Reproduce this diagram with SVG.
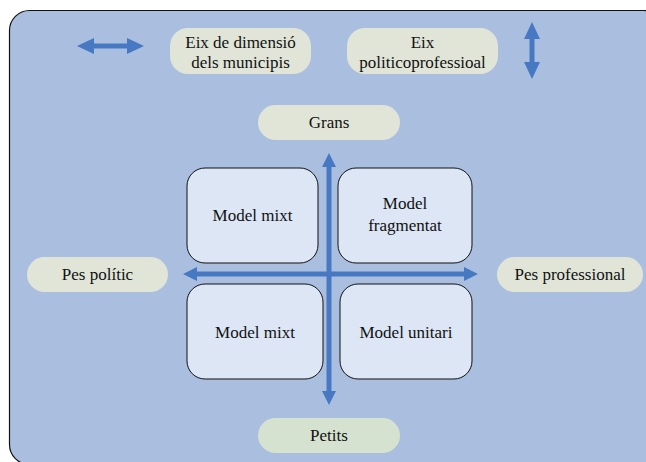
<svg xmlns="http://www.w3.org/2000/svg" width="646" height="462" viewBox="0 0 646 462">
  <style>
    .panel { fill: #AABFE0; stroke: #111; stroke-width: 1.2; }
    .pill { fill: #E0E5D8; stroke: none; }
    .model { fill: #DCE6F5; stroke: #111; stroke-width: 1; }
    text { font-family: 'Liberation Serif', 'Times New Roman', Times, serif; font-size: 17px; fill: #111; text-anchor: middle; }
    .axis { stroke: #4778C2; stroke-width: 5; fill: none; }
    .head { fill: #4778C2; }
  </style>
  <defs>
    <marker id="ah" viewBox="0 0 14 14" refX="2" refY="7" markerWidth="14" markerHeight="14" markerUnits="userSpaceOnUse" orient="auto-start-reverse">
      <path class="head" d="M0,0 L14,7 L0,14 Z"/>
    </marker>
    <marker id="ahBig" viewBox="0 0 17 16" refX="2" refY="8" markerWidth="17" markerHeight="16" markerUnits="userSpaceOnUse" orient="auto-start-reverse">
      <path class="head" d="M0,0 L17,8 L0,16 Z"/>
    </marker>
  </defs>

  <!-- background panel -->
  <rect class="panel" x="9.5" y="10.5" width="654" height="454" rx="20"/>

  <g font-family="Liberation Serif, serif">
  <!-- legend -->
  <g id="legend-h-arrow">
    <line class="axis" x1="92" y1="46" x2="129" y2="46" marker-start="url(#ahBig)" marker-end="url(#ahBig)"/>
  </g>
  <g id="legend-dimensio">
    <rect class="pill" x="170" y="28" width="141" height="46" rx="18"/>
    <text x="240.5" y="48">Eix de dimensió</text>
    <text x="240.5" y="68">dels municipis</text>
  </g>
  <g id="legend-politicoprofessional">
    <rect class="pill" x="347" y="28" width="151" height="46" rx="18"/>
    <text x="422.5" y="48">Eix</text>
    <text x="422.5" y="68">politicoprofessioal</text>
  </g>
  <g id="legend-v-arrow">
    <line class="axis" x1="532" y1="37" x2="532" y2="64" marker-start="url(#ahBig)" marker-end="url(#ahBig)"/>
  </g>

  <!-- axis end labels -->
  <g id="grans">
    <rect class="pill" x="258" y="105" width="142" height="35" rx="17.5"/>
    <text x="329" y="128">Grans</text>
  </g>
  <g id="petits">
    <rect class="pill" x="258" y="418" width="142" height="35" rx="17.5" style="fill:#D6E2D0"/>
    <text x="329" y="441">Petits</text>
  </g>
  <g id="pes-politic">
    <rect class="pill" x="27" y="257" width="141" height="35" rx="17.5"/>
    <text x="97.5" y="280">Pes polític</text>
  </g>
  <g id="pes-professional">
    <rect class="pill" x="497" y="257" width="146" height="35" rx="17.5"/>
    <text x="570" y="280">Pes professional</text>
  </g>

  <!-- quadrants -->
  <g id="model-mixt-top">
    <rect class="model" x="187" y="168" width="131" height="95" rx="18"/>
    <text x="252.5" y="221">Model mixt</text>
  </g>
  <g id="model-fragmentat">
    <rect class="model" x="338" y="168" width="134" height="95" rx="18"/>
    <text x="405" y="209">Model</text>
    <text x="405" y="231">fragmentat</text>
  </g>
  <g id="model-mixt-bottom">
    <rect class="model" x="187" y="284" width="136" height="95" rx="18"/>
    <text x="255" y="338">Model mixt</text>
  </g>
  <g id="model-unitari">
    <rect class="model" x="340" y="284" width="132" height="95" rx="18"/>
    <text x="406" y="338">Model unitari</text>
  </g>
  </g>

  <!-- axes -->
  <g id="connectors">
    <line class="axis" x1="195" y1="274" x2="466" y2="274" marker-start="url(#ah)" marker-end="url(#ah)"/>
    <line class="axis" x1="329" y1="165" x2="329" y2="393" marker-start="url(#ah)" marker-end="url(#ah)"/>
  </g>
</svg>
